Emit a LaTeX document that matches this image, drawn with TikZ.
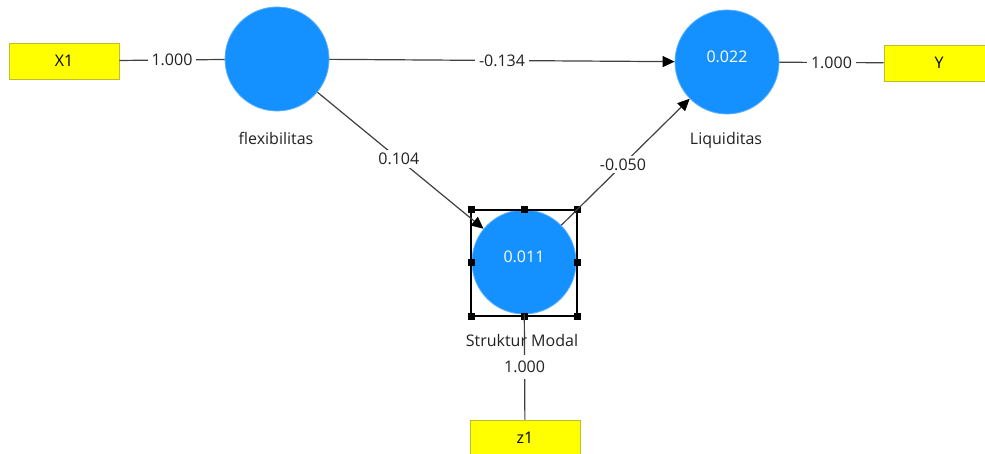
\documentclass[tikz,border=0pt]{standalone}
\usepackage{fontspec}
\setmainfont{Open Sans}
\usetikzlibrary{arrows.meta}
\definecolor{lvblue}{RGB}{20,144,255}
\definecolor{lvedge}{RGB}{90,175,255}
\definecolor{mvyellow}{RGB}{255,255,0}
\definecolor{mvborder}{RGB}{190,190,40}
\definecolor{edgegray}{RGB}{64,64,64}
\definecolor{txtgray}{RGB}{34,34,34}
\begin{document}
\begin{tikzpicture}[x=1pt,y=-1pt,
  every node/.style={font=\fontsize{16}{19}\selectfont, text=txtgray},
  latent/.style={circle, fill=lvblue, draw=lvedge, line width=0.8pt, minimum size=104pt, inner sep=0pt},
  valtext/.style={text=white, yshift=5pt},
  indicator/.style={rectangle, fill=mvyellow, draw=mvborder, line width=0.8pt, minimum width=110pt, minimum height=36pt, inner sep=0pt, text=black},
  conn/.style={draw=edgegray, line width=1.2pt},
  arr/.style={conn, -{Triangle[length=12pt,width=11pt,color=black]}},
  wlabel/.style={fill=white, inner xsep=4pt, inner ysep=3pt},
  selbox/.style={draw=black, line width=1.2pt},
  handle/.style={fill=black}
]
\useasboundingbox (0,0) rectangle (985,454);
\clip (0,0) rectangle (985,454);
\fill[white] (0,0) rectangle (985,454);

% latent variables
\node[latent] (flex) at (277,59) {};
\node[latent] (liq) at (727,62) {};
\node[latent] (sm) at (524,262) {};
\node[valtext] (liqval) at (liq.center) {0.022};
\node[valtext] (smval) at (sm.center) {0.011};

% indicators
\node[indicator] (x1) at (64,61) {X1};
\node[indicator] (y) at (939,63) {Y};
\node[indicator] (z1) at (525,438) {z1};

% selection frame around Struktur Modal
\draw[selbox] (471,210) rectangle (577,316);
\foreach \hx/\hy in {471/210,524/210,577/210,471/263,577/263,471/316,524/316,577/316}
  \fill[handle] (\hx-3.5,\hy-3.5) rectangle (\hx+3.5,\hy+3.5);

% connectors
\draw[conn] (x1) -- node[wlabel] (l1) {1.000} (flex);
\draw[conn] (liq) -- node[wlabel] (l2) {1.000} (y);
\draw[conn] (z1) -- node[wlabel, inner ysep=6pt] (l3) {1.000} (sm);
\draw[arr] (flex) -- node[wlabel] (p1) {-0.134} (liq);
\draw[arr] (flex) -- node[wlabel, pos=0.49] (p2) {0.104} (sm);
\draw[arr] (sm) -- node[wlabel, pos=0.48] (p3) {-0.050} (liq);

% names
\node (flexlab) at (276,138) {flexibilitas};
\node (liqlab) at (726,140) {Liquiditas};
\node (smlab) at (522,340) {Struktur Modal};
\end{tikzpicture}
\end{document}
